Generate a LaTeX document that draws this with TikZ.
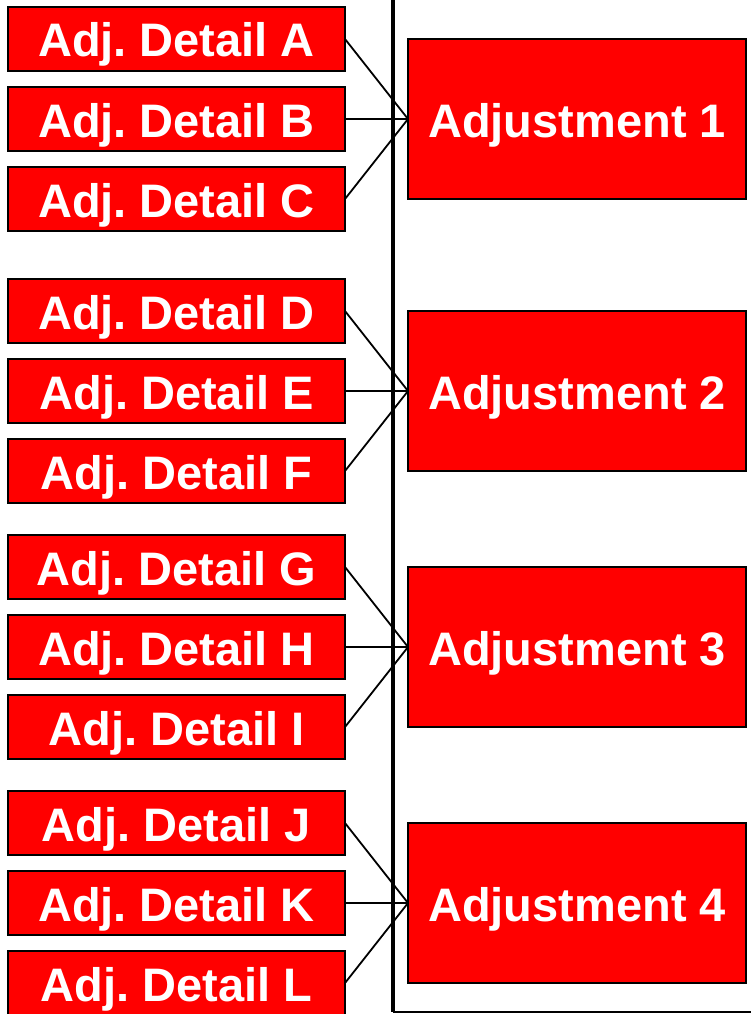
\documentclass[tikz,border=0pt]{standalone}
\usepackage{fontspec}
\setmainfont{Liberation Sans}
\frenchspacing
\definecolor{boxred}{RGB}{255,0,0}
\tikzset{
  detailbox/.style={draw=black, line width=1.6pt, fill=boxred, text=white,
    minimum width=337pt, minimum height=64pt, inner sep=0pt, outer sep=0pt,
    text height=36pt, text depth=0pt,
    font=\fontsize{47}{47}\selectfont\bfseries},
  adjbox/.style={draw=black, line width=1.6pt, fill=boxred, text=white,
    minimum width=338pt, minimum height=160pt, inner sep=0pt, outer sep=0pt,
    text height=36pt, text depth=0pt,
    font=\fontsize{47}{47}\selectfont\bfseries},
  link/.style={draw=black, line width=1.8pt},
  frameline/.style={draw=black, line width=4pt}
}
\begin{document}
\begin{tikzpicture}[x=1pt,y=-1pt]
\useasboundingbox (0,0) rectangle (751,1014);
% frame line
\coordinate (ftop) at (393,-5);
\coordinate (fcorner) at (393,1012);
\coordinate (fright) at (760,1012);
\draw[frameline] (ftop) -- (fcorner);
\draw[black, line width=2.4pt] (fcorner) -- (fright);
% detail boxes
\node[detailbox] (A) at (176.5,39) {Adj. Detail A};
\node[detailbox] (B) at (176.5,119) {Adj. Detail B};
\node[detailbox] (C) at (176.5,199) {Adj. Detail C};
\node[detailbox] (D) at (176.5,311) {Adj. Detail D};
\node[detailbox] (E) at (176.5,391) {Adj. Detail E};
\node[detailbox] (F) at (176.5,471) {Adj. Detail F};
\node[detailbox] (G) at (176.5,567) {Adj. Detail G};
\node[detailbox] (H) at (176.5,647) {Adj. Detail H};
\node[detailbox] (I) at (176.5,727) {Adj. Detail I};
\node[detailbox] (J) at (176.5,823) {Adj. Detail J};
\node[detailbox] (K) at (176.5,903) {Adj. Detail K};
\node[detailbox] (L) at (176.5,983) {Adj. Detail L};
% adjustment boxes
\node[adjbox] (S1) at (577,119) {Adjustment 1};
\node[adjbox] (S2) at (577,391) {Adjustment 2};
\node[adjbox] (S3) at (577,647) {Adjustment 3};
\node[adjbox] (S4) at (577,903) {Adjustment 4};
% connectors
\foreach \d in {A,B,C} \draw[link] (\d.east) -- (S1.west);
\foreach \d in {D,E,F} \draw[link] (\d.east) -- (S2.west);
\foreach \d in {G,H,I} \draw[link] (\d.east) -- (S3.west);
\foreach \d in {J,K,L} \draw[link] (\d.east) -- (S4.west);
\end{tikzpicture}
\end{document}
